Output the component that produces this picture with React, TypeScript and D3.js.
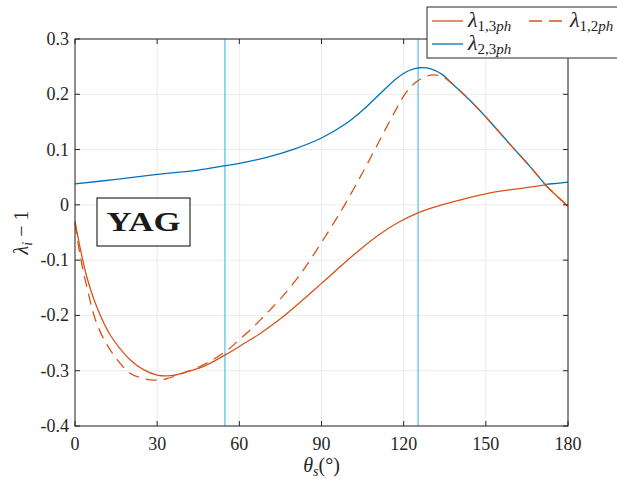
import React from "react";
import * as d3 from "d3";

// ---- data ----
const xTicks = [0, 30, 60, 90, 120, 150, 180];
const yTicks = [-0.4, -0.3, -0.2, -0.1, 0, 0.1, 0.2, 0.3];
const yTickLabels = ["-0.4", "-0.3", "-0.2", "-0.1", "0", "0.1", "0.2", "0.3"];
const refAngles = [54.74, 125.26];
const crossAngle = 171.6; // where the eigenvalue branches swap

const thetaL13 = [0, 2, 4.3, 7.9, 12.8, 20.1, 25, 30, 35, 40, 47, 55, 62, 67.5, 75, 82, 90, 97, 104, 111, 118, 125, 130, 140, 150, 160, 166, 171.6, 180];
const valL13 = [-0.030, -0.081, -0.130, -0.184, -0.235, -0.280, -0.298, -0.308, -0.309, -0.303, -0.292, -0.271, -0.250, -0.233, -0.206, -0.177, -0.142, -0.111, -0.081, -0.054, -0.032, -0.015, -0.006, 0.008, 0.020, 0.028, 0.032, 0.036, -0.003];

const thetaL23 = [0, 15, 30, 45, 55, 60, 70, 80, 90, 99, 105, 111, 117.5, 122, 126, 130, 134, 138, 144, 150, 155, 160, 166, 171.6, 176, 180];
const valL23 = [0.038, 0.046, 0.055, 0.063, 0.071, 0.075, 0.086, 0.101, 0.121, 0.147, 0.171, 0.199, 0.229, 0.243, 0.248, 0.246, 0.236, 0.218, 0.190, 0.159, 0.131, 0.103, 0.070, 0.037, 0.039, 0.041];

const thetaL12 = [0, 2, 4.3, 7.9, 12.8, 20, 25, 29, 33, 37, 47, 55, 60, 64, 67.5, 71.2, 75, 82.2, 90, 96.8, 103, 106.5, 110, 113.8, 117.5, 121, 124.8, 128.4, 131, 134, 137, 144, 150, 155, 160, 166, 171.6, 180];
const valL12 = [-0.033, -0.095, -0.148, -0.214, -0.262, -0.304, -0.314, -0.317, -0.315, -0.309, -0.289, -0.265, -0.244, -0.226, -0.209, -0.190, -0.170, -0.126, -0.068, -0.014, 0.040, 0.072, 0.105, 0.141, 0.175, 0.204, 0.223, 0.233, 0.235, 0.232, 0.222, 0.190, 0.159, 0.131, 0.103, 0.070, 0.037, -0.003];

const ORANGE = "#D95319";
const BLUE = "#0072BD";
const LIGHTBLUE = "#4DBEEE";
const AX = "#262626";
const SERIF = "'Liberation Serif', 'Times New Roman', serif";
const DASH = "11,7";

export default function App() {
  const W = 617, H = 479;
  const L = 75, R = 568, T = 39, B = 426;
  const x = d3.scaleLinear().domain([0, 180]).range([L, R]);
  const y = d3.scaleLinear().domain([-0.4, 0.3]).range([B, T]);
  const line = d3
    .line<[number, number]>()
    .x((d) => x(d[0]))
    .y((d) => y(d[1]))
    .curve(d3.curveCatmullRom.alpha(0.5));
  const zip = (a: number[], b: number[]) => a.map((v, i) => [v, b[i]] as [number, number]);
  // split a series at the branch-crossing angle so the kink stays sharp
  const pathOf = (a: number[], b: number[]) => {
    const pts = zip(a, b);
    const k = a.indexOf(crossAngle);
    if (k < 0) return line(pts) || "";
    return (line(pts.slice(0, k + 1)) || "") + (line(pts.slice(k)) || "");
  };
  const tl = 5;

  const mathLabel = (base: string, sub: string, xx: number, yy: number) => (
    <text x={xx} y={yy} fontSize={22} fill={AX}>
      <tspan fontStyle="italic">{base}</tspan>
      <tspan fontSize={15} dy={4}>{sub}</tspan>
      <tspan fontSize={15} fontStyle="italic">ph</tspan>
    </text>
  );

  return (
    <svg width={W} height={H} style={{ position: "absolute", left: 0, top: 0, background: "#fff" }} fontFamily={SERIF}>
      <rect x={0} y={0} width={W} height={H} fill="#fff" />
      {/* grid */}
      {xTicks.map((t) => (
        <line key={"gx" + t} x1={x(t)} x2={x(t)} y1={T} y2={B} stroke="#ebebeb" strokeWidth={1} />
      ))}
      {yTicks.map((t) => (
        <line key={"gy" + t} x1={L} x2={R} y1={y(t)} y2={y(t)} stroke="#ebebeb" strokeWidth={1} />
      ))}
      {/* reference lines */}
      {refAngles.map((a) => (
        <line key={"r" + a} x1={x(a)} x2={x(a)} y1={T} y2={B} stroke={LIGHTBLUE} strokeWidth={1.2} />
      ))}
      {/* curves */}
      <path d={pathOf(thetaL13, valL13)} fill="none" stroke={ORANGE} strokeWidth={1.3} />
      <path d={pathOf(thetaL23, valL23)} fill="none" stroke={BLUE} strokeWidth={1.3} />
      <path d={pathOf(thetaL12, valL12)} fill="none" stroke={ORANGE} strokeWidth={1.3} strokeDasharray={DASH} />
      {/* axes box */}
      <rect x={L} y={T} width={R - L} height={B - T} fill="none" stroke={AX} strokeWidth={1} />
      {xTicks.map((t) => (
        <g key={"tx" + t}>
          <line x1={x(t)} x2={x(t)} y1={B} y2={B - tl} stroke={AX} />
          <line x1={x(t)} x2={x(t)} y1={T} y2={T + tl} stroke={AX} />
          <text x={x(t)} y={B + 24} fontSize={18} fill={AX} textAnchor="middle">{t}</text>
        </g>
      ))}
      {yTicks.map((t, i) => (
        <g key={"ty" + t}>
          <line x1={L} x2={L + tl} y1={y(t)} y2={y(t)} stroke={AX} />
          <line x1={R} x2={R - tl} y1={y(t)} y2={y(t)} stroke={AX} />
          <text x={L - 6} y={y(t) + 6} fontSize={18} fill={AX} textAnchor="end">{yTickLabels[i]}</text>
        </g>
      ))}
      {/* axis labels */}
      <text x={x(90)} y={472} fontSize={20} fill={AX} textAnchor="middle">
        <tspan fontStyle="italic">θ</tspan>
        <tspan fontStyle="italic" fontSize={14} dy={4}>s</tspan>
        <tspan dy={-4}>(°)</tspan>
      </text>
      <text transform={`translate(28, ${(T + B) / 2}) rotate(-90)`} fontSize={20} fill={AX} textAnchor="middle">
        <tspan fontStyle="italic">λ</tspan>
        <tspan fontStyle="italic" fontSize={14} dy={4}>i</tspan>
        <tspan dy={-4}> − 1</tspan>
      </text>
      {/* YAG box */}
      <rect x={97} y={198} width={93} height={48} fill="#fff" stroke="#000" strokeWidth={1} />
      <text x={143.5} y={231} fontSize={28} fontWeight="bold" fill="#1a1a1a" textAnchor="middle" textLength={74} lengthAdjust="spacingAndGlyphs">YAG</text>
      {/* legend */}
      <rect x={427} y={7} width={210} height={51} fill="#fff" stroke={AX} strokeWidth={1} />
      <line x1={432} x2={463} y1={21} y2={21} stroke={ORANGE} strokeWidth={1.3} />
      {mathLabel("λ", "1,3", 468, 27)}
      <line x1={529} x2={562} y1={21} y2={21} stroke={ORANGE} strokeWidth={1.3} strokeDasharray="13,7" />
      {mathLabel("λ", "1,2", 570, 27)}
      <line x1={432} x2={463} y1={44} y2={44} stroke={BLUE} strokeWidth={1.3} />
      {mathLabel("λ", "2,3", 468, 50)}
    </svg>
  );
}
